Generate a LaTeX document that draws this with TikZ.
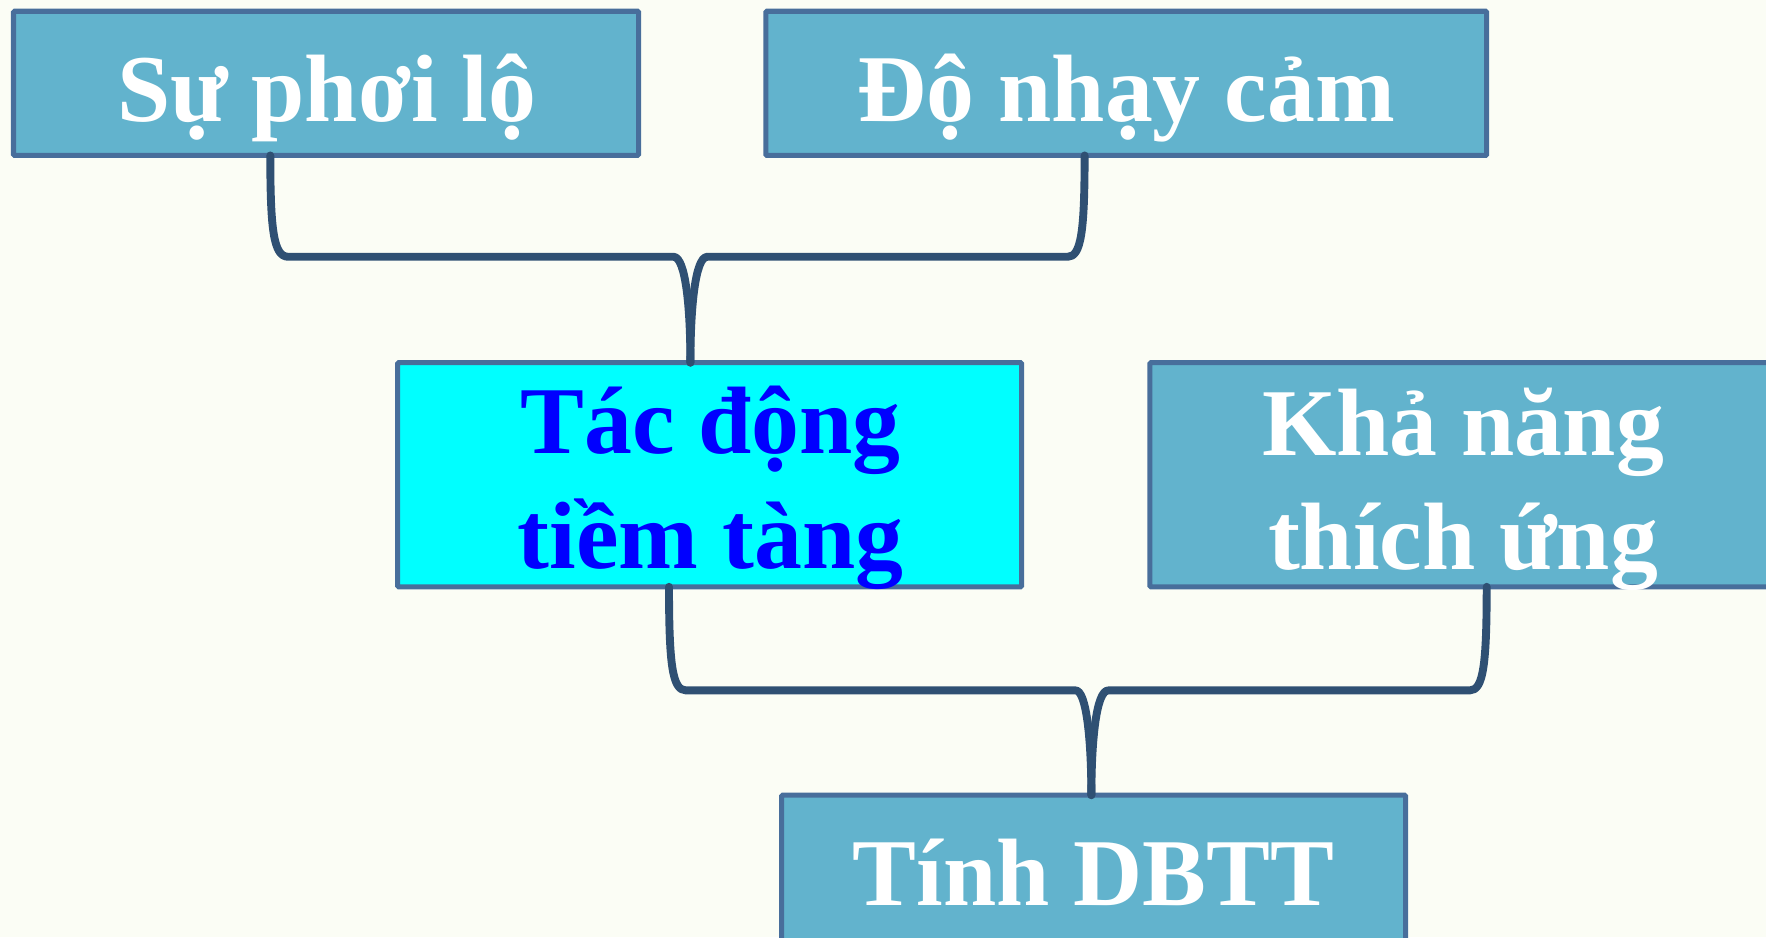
\documentclass[tikz,border=0pt]{standalone}
\usepackage{fontspec}
\setmainfont{Liberation Serif}
\usetikzlibrary{calc}
\definecolor{bgc}{HTML}{FBFDF5}
\definecolor{boxfill}{HTML}{62B3CD}
\definecolor{boxedge}{HTML}{486E9B}
\definecolor{connc}{HTML}{2F5073}
\definecolor{hicyan}{HTML}{00FFFF}
\definecolor{hiblue}{HTML}{0000FF}
\tikzset{
  box/.style={draw=boxedge, line width=4.5pt, fill=boxfill, rounded corners=1pt},
  hibox/.style={box, fill=hicyan},
  txt/.style={anchor=base, inner sep=0pt, text=white, font=\bfseries\fontsize{85}{102}\selectfont},
  hitxt/.style={txt, text=hiblue},
  conn/.style={draw=connc, line width=7pt, line cap=round, line join=round}
}
\begin{document}
\begin{tikzpicture}[x=1pt,y=-1pt]
\fill[bgc] (0,0) rectangle (1568,832);
\useasboundingbox (0,0) rectangle (1568,832);
\clip (0,0) rectangle (1568,832);
% boxes
\path[box] (12,10) rectangle (567,138);
\coordinate (b1sw) at (12,138);
\path[box] (680,10) rectangle (1320,138);
\coordinate (b2sw) at (680,138);
\path[hibox] (353,322) rectangle (907,521);
\coordinate (b3nw) at (353,322);
\coordinate (b3sw) at (353,521);
\path[box] (1021,322) rectangle (1578,521);
\coordinate (b4sw) at (1021,521);
\path[box] (694,706) rectangle (1248,836);
\coordinate (b5nw) at (694,706);
% texts
\node[txt] (t1) at (290,108) {Sự phơi lộ};
\node[txt] (t2) at (1000,108) {Độ nhạy cảm};
\node[hitxt] (t3a) at (631,403) {Tác động};
\node[hitxt] (t3b) at (631,505) {tiềm tàng};
\node[txt] (t4a) at (1299,404) {Khả năng};
\node[txt] (t4b) at (1299,506) {thích ứng};
\node[txt] (t5) at (971,804) {Tính DBTT};
% upper connector
\coordinate (j1) at ($(b3nw)+(260,0)$);
\draw[conn] ($(b1sw)+(228,0)$) .. controls (240,205) and (243,228) .. (256,228)
  -- (598,228) .. controls (609,228) and (613,275) .. (j1);
\draw[conn] ($(b2sw)+(283,0)$) .. controls (963,205) and (960,228) .. (948,228)
  -- (628,228) .. controls (617,228) and (613,275) .. (j1);
% lower connector
\coordinate (j2) at ($(b5nw)+(275,0)$);
\draw[conn] ($(b3sw)+(241,0)$) .. controls (594,590) and (597,613) .. (609,613)
  -- (955,613) .. controls (965,613) and (969,660) .. (j2);
\draw[conn] ($(b4sw)+(299,0)$) .. controls (1320,590) and (1317,613) .. (1305,613)
  -- (984,613) .. controls (973,613) and (969,660) .. (j2);
\end{tikzpicture}
\end{document}
